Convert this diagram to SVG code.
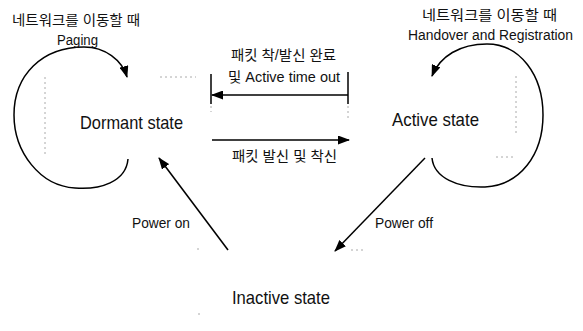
<svg xmlns="http://www.w3.org/2000/svg" width="583" height="331" viewBox="0 0 583 331">
<defs>
<marker id="ah" markerWidth="12" markerHeight="9" refX="11" refY="4.5" orient="auto" markerUnits="userSpaceOnUse">
<path d="M0,0 L12,4.5 L0,9 Z" fill="#000"/>
</marker>
<style>
.en{font-family:"Liberation Sans",Arial,sans-serif;fill:#111}
.ko{font-family:"Liberation Sans","Noto Sans CJK KR",sans-serif;fill:#111}
.st{font-size:18.5px}
.lb{font-size:14px}
.ln{fill:none;stroke:#000;stroke-width:1.5}
.faint{fill:none;stroke:#aaa;stroke-width:1;stroke-dasharray:2 3}
</style>
</defs>
<rect width="583" height="331" fill="#fff"/>
<g id="artifacts">
<path class="faint" d="M45,77 V156"/>
<path class="faint" d="M160,77 H196"/>
<path class="faint" d="M516,76 V136"/>
<path class="faint" d="M496,157 H514"/>
<path class="faint" d="M198,248 V252"/>
<path class="faint" d="M351,250 H366"/>
<path class="faint" d="M199,313 V318"/>
</g>
<g id="connectors">
<path class="ln" d="M128,159 C126,182 100,190 75,188 C40,186 14,152 14,115 C14,75 42,47 84,47 C105,47 122,60 127,77" marker-end="url(#ah)"/>
<path class="ln" d="M432,158 C434,178 458,188 485,187 C520,185 543,155 543,115 C543,75 520,44 487,44 C460,44 440,56 432,76" marker-end="url(#ah)"/>
<path class="ln" d="M348,95 H212" marker-end="url(#ah)"/>
<path class="ln" d="M211,74 V104" stroke-width="1.2"/>
<path class="ln" d="M348,72 V104" stroke-width="1.2"/>
<path class="faint" d="M211,106 V112"/>
<path class="faint" d="M348,106 V118"/>
<path class="ln" d="M212,140 H349" marker-end="url(#ah)"/>
<path class="ln" d="M228,250 L159,158" marker-end="url(#ah)"/>
<path class="ln" d="M425,158 L335,251" marker-end="url(#ah)"/>
</g>
<g id="dormant"><text class="en st" x="80" y="129" textLength="103" lengthAdjust="spacingAndGlyphs">Dormant state</text></g>
<g id="active"><text class="en st" x="392" y="126" textLength="87" lengthAdjust="spacingAndGlyphs">Active state</text></g>
<g id="inactive"><text class="en st" x="232" y="304" textLength="98" lengthAdjust="spacingAndGlyphs">Inactive state</text></g>
<g id="labels">
<text class="ko lb" x="12" y="25" textLength="128" lengthAdjust="spacingAndGlyphs">네트워크를 이동할 때</text>
<text class="en lb" x="57" y="45" textLength="41" lengthAdjust="spacingAndGlyphs">Paging</text>
<text class="ko lb" x="422" y="20" textLength="135" lengthAdjust="spacingAndGlyphs">네트워크를 이동할 때</text>
<text class="en lb" x="408" y="40" textLength="165" lengthAdjust="spacingAndGlyphs">Handover and Registration</text>
<text class="ko lb" x="231" y="60" textLength="105" lengthAdjust="spacingAndGlyphs">패킷 착/발신 완료</text>
<text class="ko lb" x="228" y="82" textLength="112" lengthAdjust="spacingAndGlyphs">및 Active time out</text>
<text class="ko lb" x="232" y="161" textLength="105" lengthAdjust="spacingAndGlyphs">패킷 발신 및 착신</text>
<text class="en lb" x="132" y="228" textLength="58" lengthAdjust="spacingAndGlyphs">Power on</text>
<text class="en lb" x="375" y="228" textLength="58" lengthAdjust="spacingAndGlyphs">Power off</text>
</g>
</svg>
